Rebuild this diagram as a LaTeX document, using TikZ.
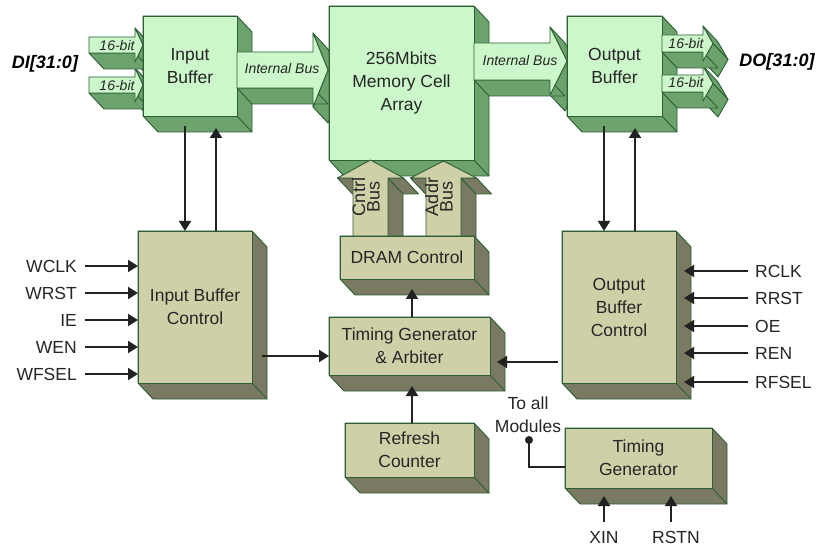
\documentclass[tikz,border=0pt]{standalone}
\usepackage{fontspec}
\setmainfont{Liberation Sans}
\usetikzlibrary{arrows.meta}
\definecolor{gface}{HTML}{CCF7CA}
\definecolor{gside}{HTML}{6CA26C}
\definecolor{tface}{HTML}{D0D0A8}
\definecolor{tside}{HTML}{7A7A62}
\definecolor{bord}{HTML}{2E5E36}
\definecolor{linec}{HTML}{222222}
\definecolor{textc}{HTML}{262626}

\newcommand\sideface[5]{\filldraw[fill=#5, draw=bord, line width=0.9pt, line join=round] (#1,#2) -- (#3,#4) -- (#3+15,#4+16) -- (#1+15,#2+16) -- cycle;}

% right-pointing extruded arrow: x0, shaft top, shaft bottom, head x, head top, head bottom, tip x, centre y, colour prefix
\newcommand\rarrow[9]{%
 \sideface{#4}{#5}{#7}{#8}{#9side}
 \sideface{#7}{#8}{#4}{#6}{#9side}
 \sideface{#4}{#3}{#1}{#3}{#9side}
 \filldraw[fill=#9face, draw=bord, line width=0.9pt, line join=round] (#1,#2) -- (#4,#2) -- (#4,#5) -- (#7,#8) -- (#4,#6) -- (#4,#3) -- (#1,#3) -- cycle;}

% up-pointing extruded arrow: shaft left, shaft right, head left, head right, head base y, tip y, bottom y, colour prefix
\newcommand\uarrow[8]{%
 \sideface{#2}{#5}{#2}{#7}{#8side}
 \sideface{#4}{#5}{#2}{#5}{#8side}
 \sideface{#1}{#5}{#3}{#5}{#8side}
 \filldraw[fill=#8face, draw=bord, line width=0.9pt, line join=round] (#1,#7) -- (#1,#5) -- (#3,#5) -- ({(#3+#4)/2},#6) -- (#4,#5) -- (#2,#5) -- (#2,#7) -- cycle;}

% 3D box: name, x1, y1, x2, y2, face, side, text
\newcommand\cubebox[8]{%
 \filldraw[fill=#7, draw=bord, line width=0.9pt, line join=round] (#2,#3) -- (#4,#3) -- (#4+15,#3+16) -- (#4+15,#5+16) -- (#2+15,#5+16) -- (#2,#5) -- cycle;
 \draw[bord, line width=0.9pt] (#4,#5) -- (#4+15,#5+16);
 \node[boxface, fill=#6, minimum width={(#4-#2)*1pt}, minimum height={(#5-#3)*1pt}] (#1) at ({(#2+#4)/2},{(#3+#5)/2}) {#8};}

\begin{document}
\begin{tikzpicture}[x=1pt,y=-1pt,
  boxface/.style={draw=bord, line width=0.9pt, inner sep=0pt, outer sep=0pt, align=center, text=textc, font=\fontsize{17.5}{23}\selectfont},
  conn/.style={draw=linec, line width=1.9pt, -{Triangle[length=10pt,width=12pt]}},
  wire/.style={draw=linec, line width=1.9pt},
  sig/.style={text=textc, font=\fontsize{17.5}{23}\selectfont, inner sep=0pt, align=center},
  bus/.style={text=textc, font=\itshape\fontsize{14}{16}\selectfont, inner sep=0pt},
  port/.style={text=black, font=\bfseries\itshape\fontsize{18}{20}\selectfont, inner sep=0pt},
  vbus/.style={text=textc, rotate=90, align=center, font=\fontsize{18}{14.5}\selectfont, inner sep=0pt}]

\fill[white] (0,0) rectangle (817,548);
\useasboundingbox (0,0) rectangle (817,548);

% input 16-bit arrows
\rarrow{89}{77}{93}{135}{68}{102}{143}{85}{g}
\rarrow{89}{37}{53}{135}{28}{62}{143}{45}{g}
\cubebox{ib}{143}{16}{237}{116}{gface}{gside}{Input\\Buffer}
\rarrow{237}{52}{88}{313}{33}{107}{328}{70}{g}
\cubebox{mem}{329}{6}{474}{160}{gface}{gside}{256Mbits\\Memory Cell\\Array}
\rarrow{474}{43}{80}{550}{27}{95}{567}{61}{g}
\cubebox{ob}{567}{16}{662}{116}{gface}{gside}{Output\\Buffer}
\rarrow{662}{75}{92}{703}{66}{101}{713}{83.5}{g}
\rarrow{662}{35}{52}{703}{26}{61}{713}{43.5}{g}

% control / address buses
\uarrow{353}{388}{337.5}{403.5}{178}{160}{250}{t}
\uarrow{426}{461}{410.5}{476.5}{178}{161}{250}{t}
\cubebox{dram}{340}{236}{474}{279}{tface}{tside}{DRAM Control}

\cubebox{ibc}{138}{231}{252}{383}{tface}{tside}{Input Buffer\\Control}
\cubebox{tga}{329}{317}{490}{375}{tface}{tside}{Timing Generator\\\& Arbiter}
\cubebox{rc}{345}{423}{474}{477}{tface}{tside}{Refresh\\Counter}
\cubebox{obc}{562}{231}{676}{383}{tface}{tside}{Output\\Buffer\\Control}
\cubebox{tg}{565}{428}{712}{488}{tface}{tside}{Timing\\Generator}

% bus labels
\node[bus] (ibus) at (282,68) {Internal Bus};
\node[bus] (obus) at (520,60) {Internal Bus};
\node[bus] (di1) at (117,45) {16-bit};
\node[bus] (di2) at (117,85) {16-bit};
\node[bus] (do1) at (686,43) {16-bit};
\node[bus] (do2) at (686,82) {16-bit};
\node[port] (di) at (45,64) {DI[31:0]};
\node[port] (do) at (777,62) {DO[31:0]};
\node[vbus] (cbus) at (366,197) {Cntrl\\Bus};
\node[vbus] (abus) at (439,197) {Addr\\Bus};

% buffer <-> buffer control
\coordinate (ibd) at (185,126);
\coordinate (ibu) at (216,128);
\draw[conn] (ibd) -- (ibd |- ibc.north);
\draw[conn] (ibu |- ibc.north) -- (ibu);
\coordinate (obd) at (604,126);
\coordinate (obu) at (635,128);
\draw[conn] (obd) -- (obd |- obc.north);
\draw[conn] (obu |- obc.north) -- (obu);

% write side signals
\foreach \n/\t/\y in {wclk/WCLK/266, wrst/WRST/293, ie/IE/320, wen/WEN/347, wfsel/WFSEL/374} {
  \node[sig, anchor=east] (\n) at (77,\y) {\t};
  \draw[conn] ([xshift=8pt]\n.east) -- (\n.east -| ibc.west);
}
% read side signals
\coordinate (obcr) at (684,300);
\foreach \n/\t/\y in {rclk/RCLK/271, rrst/RRST/298, oe/OE/326, ren/REN/353, rfsel/RFSEL/382} {
  \node[sig, anchor=west] (\n) at (755,\y) {\t};
  \draw[conn] ([xshift=-7pt]\n.west) -- (\n.west -| obcr);
}

% to timing generator & arbiter
\coordinate (ibco) at (262,356);
\draw[conn] (ibco) -- (ibco -| tga.west);
\coordinate (obco) at (558,362);
\coordinate (tgar) at (497,362);
\draw[conn] (obco) -- (tgar);
\coordinate (tgab) at (412,386);
\draw[conn] (rc.north -| tgab) -- (tgab);
\coordinate (dramb) at (412,289);
\draw[conn] (tga.north -| dramb) -- (dramb);

% timing generator
\node[sig] (tam) at (528,415) {To all\\Modules};
\coordinate (dot) at (529,440);
\fill[linec] (dot) circle (4);
\draw[wire] (dot) |- (tg.west |- 0,467);
\node[sig] (xin) at (604,537) {XIN};
\node[sig] (rstn) at (676,537) {RSTN};
\coordinate (xinl) at (604,522);
\coordinate (rstnl) at (671,522);
\draw[conn] (xinl) -- (xinl |- 0,496);
\draw[conn] (rstnl) -- (rstnl |- 0,496);
\end{tikzpicture}
\end{document}
